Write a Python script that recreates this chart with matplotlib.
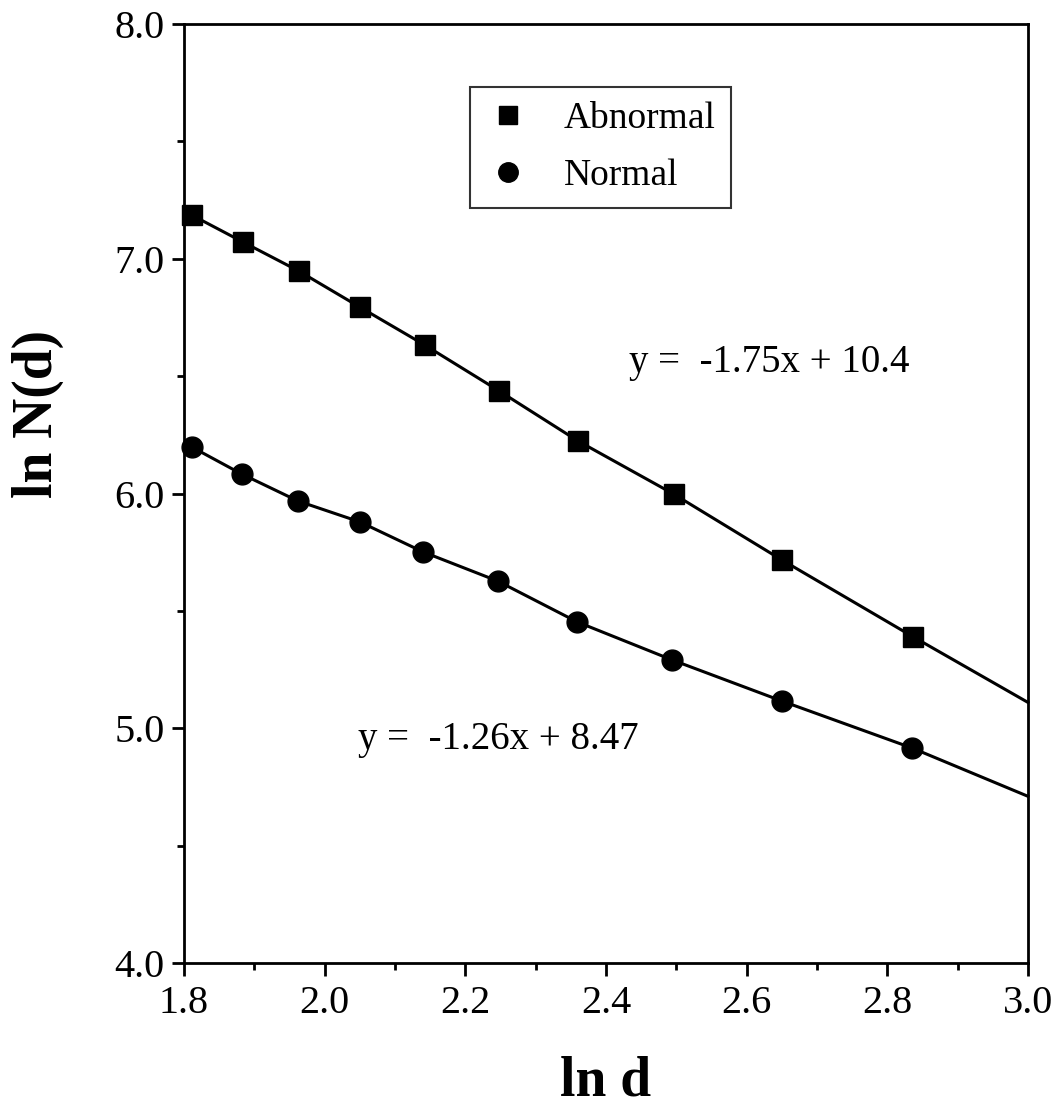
import matplotlib
matplotlib.use("Agg")
import matplotlib.pyplot as plt
import numpy as np
from matplotlib.lines import Line2D

plt.rcParams['font.family'] = ['Liberation Serif', 'DejaVu Serif']

# Data
abn_x = [1.811, 1.884, 1.963, 2.050, 2.142, 2.248, 2.360, 2.496, 2.650, 2.837]
abn_y = [7.186, 7.071, 6.948, 6.794, 6.633, 6.437, 6.224, 5.998, 5.717, 5.389]
norm_x = [1.811, 1.882, 1.962, 2.050, 2.140, 2.246, 2.359, 2.494, 2.650, 2.835]
norm_y = [6.198, 6.083, 5.968, 5.879, 5.751, 5.627, 5.453, 5.291, 5.116, 4.916]
# trend lines continue to the right edge of the axis
line_end_x = 3.0
abn_line_end_y = 5.11
norm_line_end_y = 4.71

xticks = [1.8, 2.0, 2.2, 2.4, 2.6, 2.8, 3.0]
yticks = [4.0, 5.0, 6.0, 7.0, 8.0]
eq_abn = "y =  -1.75x + 10.4"
eq_norm = "y =  -1.26x + 8.47"

fig = plt.figure(figsize=(10.54, 11.13), dpi=100)
ax = fig.add_axes([0.1746, 0.1348, 0.8007, 0.8436])

ax.plot(np.append(abn_x, line_end_x), np.append(abn_y, abn_line_end_y),
        color='black', lw=2.2, zorder=2, clip_on=False)
ax.plot(np.append(norm_x, line_end_x), np.append(norm_y, norm_line_end_y),
        color='black', lw=2.2, zorder=2, clip_on=False)
ax.plot(abn_x, abn_y, linestyle='none', marker='s', ms=14.5, color='black',
        zorder=3, clip_on=False)
ax.plot(norm_x, norm_y, linestyle='none', marker='o', ms=15, color='black',
        zorder=3, clip_on=False)

ax.set_xlim(1.8, 3.0)
ax.set_ylim(4.0, 8.0)
ax.set_xticks(xticks)
ax.set_xticklabels([f"{v:.1f}" for v in xticks])
ax.set_yticks(yticks)
ax.set_yticklabels([f"{v:.1f}" for v in yticks])
ax.set_xticks(np.arange(1.9, 3.0, 0.2), minor=True)
ax.set_yticks(np.arange(4.5, 8.0, 1.0), minor=True)

ax.tick_params(which='major', direction='out', length=9, width=2.0,
               labelsize=29, pad=5)
ax.tick_params(axis='x', which='major', pad=7)
ax.tick_params(which='minor', direction='out', length=5, width=2.0)
ax.tick_params(top=False, right=False)
for s in ax.spines.values():
    s.set_linewidth(2.0)

ax.set_xlabel("ln d", fontsize=40, fontweight='bold', labelpad=24)
ax.set_ylabel("ln N(d)", fontsize=40, fontweight='bold')
ax.yaxis.set_label_coords(-0.142, 0.585)

ax.text(2.433, 6.556, eq_abn, fontsize=28, va='center', ha='left')
ax.text(2.047, 4.95, eq_norm, fontsize=28, va='center', ha='left')

handles = [Line2D([], [], linestyle='none', marker='s', ms=13, color='black'),
           Line2D([], [], linestyle='none', marker='o', ms=14, color='black')]
leg = ax.legend(handles, ["Abnormal", "Normal"], loc='upper left',
                bbox_to_anchor=(0.339, 0.933), fontsize=27, frameon=True,
                fancybox=False, borderpad=0.4, handletextpad=0.9,
                labelspacing=0.6, handlelength=1.2, borderaxespad=0)
leg.get_frame().set_edgecolor('black')
leg.get_frame().set_linewidth(1.5)

fig.savefig("out.png", dpi=100)
